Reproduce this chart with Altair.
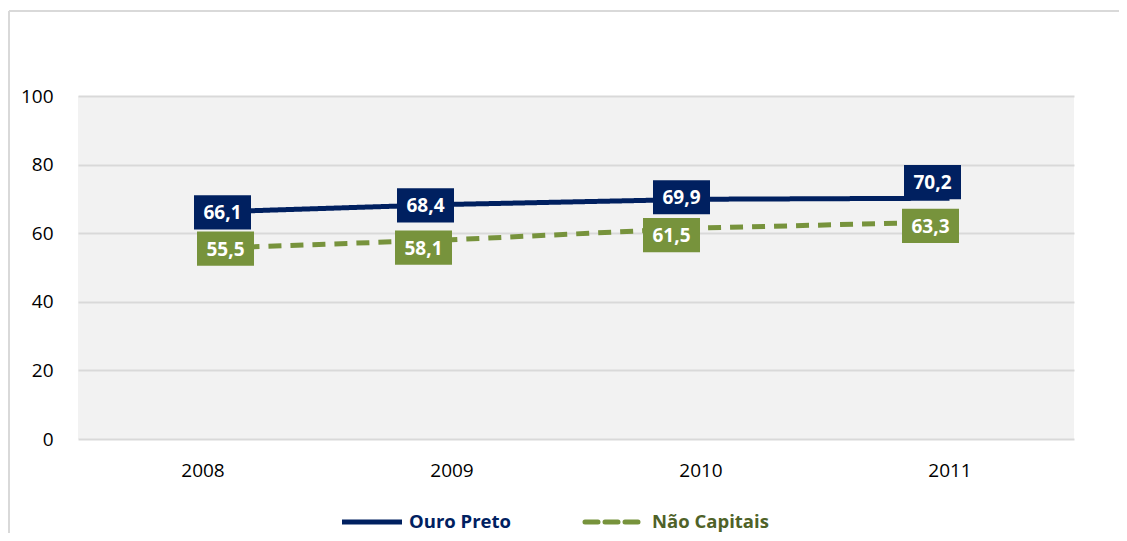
import altair as alt
import pandas as pd

years = ["2008", "2009", "2010", "2011"]
ouro_preto = [66.1, 68.4, 69.9, 70.2]
nao_capitais = [55.5, 58.1, 61.5, 63.3]
series_names = ["Ouro Preto", "Não Capitais"]
y_ticks = [0, 20, 40, 60, 80, 100]

NAVY = "#002060"
GREEN = "#77933C"
GREEN_TEXT = "#4F6228"
FONT = "Open Sans"

# label placement (pixel shifts of the value boxes, styling only)
label_dx = {"Ouro Preto": [20, -26, -19, -17], "Não Capitais": [23, -28, -29, -19]}
label_dy = {"Ouro Preto": [0, 1, -2, -16], "Não Capitais": [0, 8, 7, 4]}

PLOT_H = 343

rows = []
for name, vals in zip(series_names, [ouro_preto, nao_capitais]):
    for i, (yr, v) in enumerate(zip(years, vals)):
        rows.append({"year": yr, "value": v, "series": name,
                     "dx": label_dx[name][i], "dy": label_dy[name][i]})
df = pd.DataFrame(rows)

x_enc = alt.X("year:O", scale=alt.Scale(type="point", padding=0.5),
              axis=alt.Axis(title=None, labelAngle=0, domain=False, ticks=False,
                            labelPadding=22, labelFontSize=19, labelFont=FONT,
                            labelColor="#000000", grid=False))
y_enc = alt.Y("value:Q", scale=alt.Scale(domain=[0, 100]),
              axis=alt.Axis(title=None, values=y_ticks, domain=False, ticks=False,
                            labelPadding=25, labelFontSize=19, labelFont=FONT,
                            labelColor="#000000", grid=True, gridColor="#D9D9D9",
                            gridWidth=2))

color_scale = alt.Scale(domain=series_names, range=[NAVY, GREEN])
dash_scale = alt.Scale(domain=series_names, range=[[1, 0], [13, 9]])

base = alt.Chart(df)

lines = base.mark_line(strokeWidth=5, strokeCap="butt").encode(
    x=x_enc, y=y_enc,
    color=alt.Color("series:N", scale=color_scale, legend=None),
    strokeDash=alt.StrokeDash("series:N", scale=dash_scale, legend=None),
    detail="series:N",
)

lab_base = base.transform_calculate(
    lab="replace(format(datum.value, '.1f'), '.', ',')",
    ly=f"datum.value - datum.dy * 100 / {PLOT_H}",
)

box_shape = "M-1,-0.6L1,-0.6L1,0.6L-1,0.6Z"
boxes = lab_base.mark_point(shape=box_shape, filled=True, opacity=1, size=3249,
                            strokeWidth=0).encode(
    x="year:O", y=alt.Y("ly:Q"),
    color=alt.Color("series:N", scale=color_scale, legend=None),
    xOffset=alt.XOffset("dx:Q", scale=None),
)

labels = lab_base.mark_text(font=FONT, fontSize=19, fontWeight="bold", color="white",
                            baseline="middle", align="center", dy=1).encode(
    x="year:O", y=alt.Y("ly:Q"), text="lab:N",
    xOffset=alt.XOffset("dx:Q", scale=None),
)

one = pd.DataFrame({"k": [0]})
border_top = alt.Chart(one).mark_rule(color="#D9D9D9", strokeWidth=2, clip=False).encode(
    x=alt.value(-69), x2=alt.value(1300), y=alt.value(-85))
border_left = alt.Chart(one).mark_rule(color="#D9D9D9", strokeWidth=2, clip=False).encode(
    x=alt.value(-69), y=alt.value(-85), y2=alt.value(800))

# legend
LEG_Y = 426
leg_line1 = alt.Chart(one).mark_rule(color=NAVY, strokeWidth=5).encode(
    x=alt.value(264), x2=alt.value(324), y=alt.value(LEG_Y))
leg_text1 = alt.Chart(one).mark_text(text=series_names[0], font=FONT, fontSize=18.5,
                                     fontWeight="bold", color=NAVY, align="left",
                                     baseline="middle").encode(
    x=alt.value(331), y=alt.value(LEG_Y))
leg_line2 = alt.Chart(one).mark_rule(color=GREEN, strokeWidth=5, strokeDash=[13, 7],
                                     strokeCap="round").encode(
    x=alt.value(507), x2=alt.value(561), y=alt.value(LEG_Y))
leg_text2 = alt.Chart(one).mark_text(text=series_names[1], font=FONT, fontSize=18.5,
                                     fontWeight="bold", color=GREEN_TEXT, align="left",
                                     baseline="middle").encode(
    x=alt.value(574), y=alt.value(LEG_Y))

chart = alt.layer(
    border_top, border_left, lines, boxes, labels,
    leg_line1, leg_text1, leg_line2, leg_text2
).properties(
    width=996, height=PLOT_H,
    autosize=alt.AutoSizeParams(type="none"),
    padding={"left": 70, "top": 88, "right": 45, "bottom": 94},
    background="white",
).configure_view(fill="#F2F2F2", stroke=None)

chart.save("out.html", embed_options={"renderer": "svg", "actions": False})
